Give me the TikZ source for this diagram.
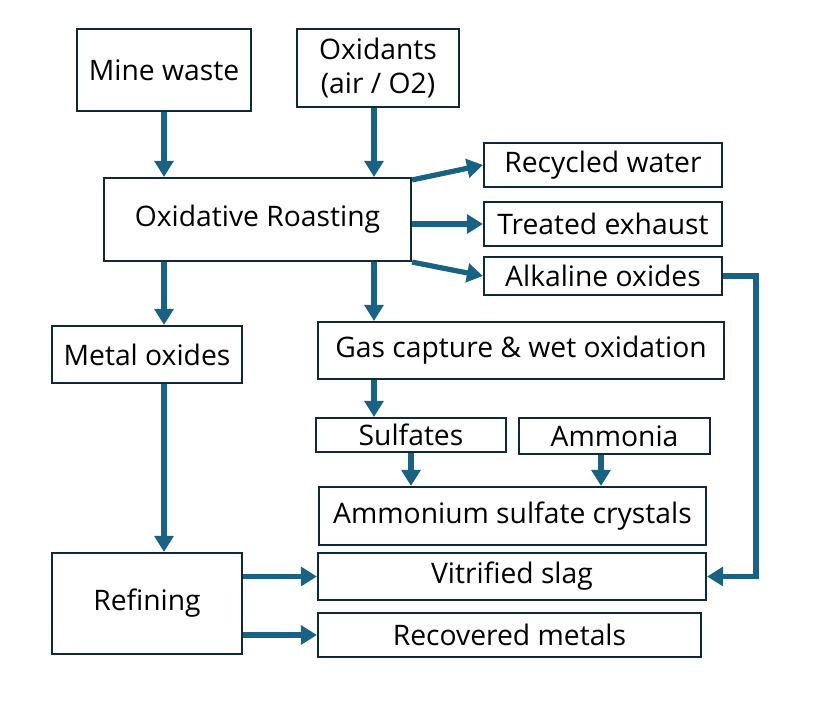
\documentclass[tikz,border=0pt]{standalone}
\usepackage{fontspec}
\setmainfont{Open Sans}
\usetikzlibrary{arrows.meta,calc}
\definecolor{boxline}{HTML}{10293A}
\definecolor{arrowc}{HTML}{1A6283}
\begin{document}
\begin{tikzpicture}[x=0.75pt,y=-0.75pt,
  box/.style={draw=boxline,line width=1.6pt,inner sep=0pt,align=center,
    font=\fontsize{21.2}{26}\selectfont,text=black},
  flow/.style={draw=arrowc,line width=3.9pt,
    -{Triangle[width=14pt,length=12pt]}}]
\useasboundingbox (0,0) rectangle (838,709);
\node[box,minimum width=174*0.75pt,minimum height=82*0.75pt] (mine) at (164,70) {Mine waste};
\node[box,minimum width=162*0.75pt,minimum height=78*0.75pt] (oxid) at (378,68) {Oxidants\\(air / O2)};
\node[box,minimum width=307*0.75pt,minimum height=83*0.75pt] (roast) at (257.5,219.5) {Oxidative Roasting};
\node[box,minimum width=238*0.75pt,minimum height=44*0.75pt] (recw) at (603,165) {Recycled water};
\node[box,minimum width=238*0.75pt,minimum height=44*0.75pt] (treat) at (603,224) {Treated exhaust};
\node[box,minimum width=238*0.75pt,minimum height=38*0.75pt] (alk) at (603,276) {Alkaline oxides};
\node[box,minimum width=190*0.75pt,minimum height=57*0.75pt] (metal) at (147,354.5) {Metal oxides};
\node[box,minimum width=406*0.75pt,minimum height=57*0.75pt] (gas) at (521,350.5) {Gas capture \& wet oxidation};
\node[box,minimum width=190*0.75pt,minimum height=34*0.75pt] (sulf) at (411,435) {Sulfates};
\node[box,minimum width=191*0.75pt,minimum height=36*0.75pt] (ammo) at (614.5,436) {Ammonia};
\node[box,minimum width=387*0.75pt,minimum height=58*0.75pt] (asc) at (512.5,516) {Ammonium sulfate crystals};
\node[box,minimum width=190*0.75pt,minimum height=101*0.75pt] (ref) at (147,603.5) {Refining};
\node[box,minimum width=388*0.75pt,minimum height=47*0.75pt] (vit) at (512,576.5) {Vitrified slag};
\node[box,minimum width=383*0.75pt,minimum height=44*0.75pt] (rec) at (509.5,635) {Recovered metals};
\coordinate (xa) at (164,0);
\coordinate (xb) at (374,0);
\coordinate (xc) at (601,0);
\draw[flow] (mine.south -| xa) -- (roast.north -| xa);
\draw[flow] (oxid.south -| xb) -- (roast.north -| xb);
\draw[flow] ($(roast.north east)+(0,3)$) -- (recw.west);
\draw[flow] (roast.east |- treat.west) -- (treat.west);
\draw[flow] (roast.south east) -- (alk.west);
\draw[flow] (roast.south -| xa) -- (metal.north -| xa);
\draw[flow] (roast.south -| xb) -- (gas.north -| xb);
\draw[flow] (gas.south -| xb) -- (sulf.north -| xb);
\draw[flow] (sulf.south) -- (asc.north -| sulf.south);
\draw[flow] (ammo.south -| xc) -- (asc.north -| xc);
\draw[flow] (metal.south -| xa) -- (ref.north -| xa);
\draw[flow] (alk.east) -- ++(33,0) |- (vit.east);
\draw[flow] (ref.east |- vit.west) -- (vit.west);
\draw[flow] (ref.east |- rec.west) -- (rec.west);
\end{tikzpicture}
\end{document}
